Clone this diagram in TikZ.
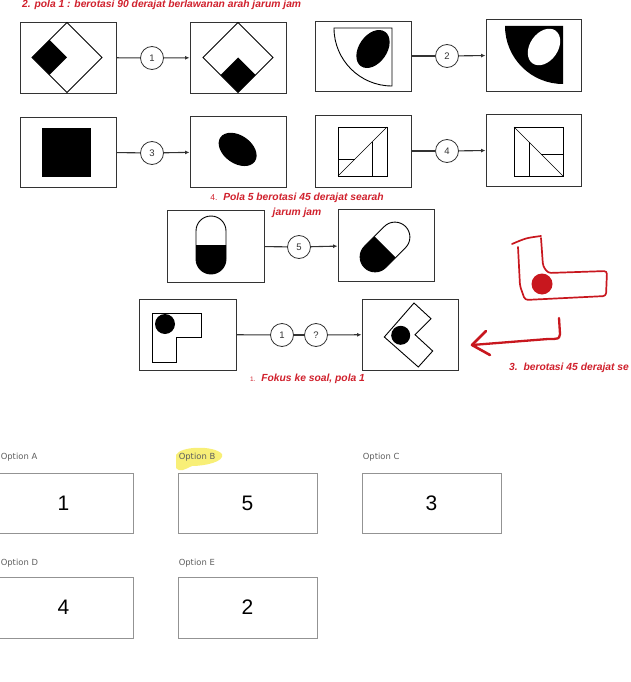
\documentclass[tikz,border=0pt]{standalone}
\usepackage{fontspec}
\setmainfont{Liberation Sans}
\newfontfamily\optfont{DejaVu Sans}
\usetikzlibrary{arrows.meta,positioning,calc}
\definecolor{notered}{HTML}{D0202C}
\definecolor{inkred}{HTML}{C8171E}
\definecolor{framegray}{HTML}{333333}
\definecolor{labelgray}{HTML}{5E5E5E}
\definecolor{marker}{HTML}{F6EA4A}

\begin{document}
\begin{tikzpicture}[
  x=1pt, y=1pt,
  panel/.style={
    draw=framegray, line width=0.9pt,
    minimum width=96pt, minimum height=71pt, inner sep=0pt
  },
  numcirc/.style={
    circle, draw=framegray, line width=0.8pt, fill=white,
    minimum size=23pt, inner sep=0pt,
    font=\fontsize{9.5}{10}\selectfont, text=framegray
  },
  link/.style={framegray, line width=1.1pt},
  arrowlink/.style={link, -{Latex[length=4.5pt, width=4pt]}},
  figline/.style={draw=black, line width=0.9pt},
  note/.style={
    font=\fontsize{10.3}{15}\selectfont\bfseries\itshape,
    text=notered, inner sep=0pt
  },
  optbox/.style={
    draw=gray!85, line width=0.8pt,
    minimum width=139pt, minimum height=60pt, inner sep=0pt,
    font=\fontsize{21}{24}\selectfont
  },
  optlabel/.style={font=\optfont\fontsize{8.4}{9}\selectfont, text=labelgray, inner sep=0pt},
  sketch/.style={inkred, line width=1.7pt, line cap=round, line join=round}
]
\useasboundingbox (0,0) rectangle (630,-682);

% ---- Row 1 ----
\node[note, anchor=west] (title1) at (22,-5) {2. pola 1 : berotasi 90 derajat berlawanan arah jarum jam};

\node[panel] (a1) at (68,-57.5) {};
\node[numcirc] (n1) at (152,-58) {1};
\node[panel] (a2) at (238,-57.5) {};
\draw[link] (a1) -- (n1);
\draw[arrowlink] (n1) -- (a2);

\node[panel, minimum height=70pt] (b1) at (363,-56) {};
\node[numcirc] (n2) at (447,-56) {2};
\node[panel, minimum width=95pt, minimum height=72pt] (b2) at (533.5,-55) {};
\draw[link] (b1) -- (n2);
\draw[arrowlink] (n2) -- (b2);

% diamonds
\begin{scope}[shift={(a1.center)}]
  \draw[figline] (-1,35) -- (34,0) -- (-1,-35) -- (-36,0) -- cycle;
  \fill[black] (-36,0) -- (-18.5,17.5) -- (-1,0) -- (-18.5,-17.5) -- cycle;
\end{scope}
\begin{scope}[shift={(a2.center)}]
  \draw[figline] (0,35) -- (35,0) -- (0,-35) -- (-35,0) -- cycle;
  \fill[black] (0,-35) -- (-17.5,-17.5) -- (0,0) -- (17.5,-17.5) -- cycle;
\end{scope}

% quarter discs
\begin{scope}[shift={(b1.center)}]
  \draw[figline] (29,28) -- (-29,28) arc[start angle=180, end angle=270, radius=58] -- cycle;
  \fill[black, rotate around={55:(10,7)}] (10,7) ellipse[x radius=21, y radius=14];
\end{scope}
\begin{scope}[shift={(b2.center)}]
  \fill[black] (29.5,29) -- (-28.5,29) arc[start angle=180, end angle=270, radius=58] -- cycle;
  \fill[white, rotate around={55:(10.5,8)}] (10.5,8) ellipse[x radius=20, y radius=14];
\end{scope}

% ---- Row 2 ----
\node[panel, minimum height=70pt] (c1) at (68,-152) {};
\node[numcirc] (n3) at (152,-153) {3};
\node[panel] (c2) at (238,-151.5) {};
\draw[link] (c1) -- (n3);
\draw[arrowlink] (n3) -- (c2);

\node[panel, minimum height=72pt] (d1) at (363,-151) {};
\node[numcirc] (n4) at (447,-151) {4};
\node[panel, minimum width=95pt, minimum height=72pt] (d2) at (533.5,-150) {};
\draw[link] (d1) -- (n4);
\draw[arrowlink] (n4) -- (d2);

\fill[black] ($(c1)+(-26,24)$) rectangle ($(c1)+(23,-25)$);
\fill[black, rotate around={-35:($(c2)+(-1.5,1.5)$)}] ($(c2)+(-1.5,1.5)$) ellipse[x radius=21, y radius=14];

% split squares
\begin{scope}[shift={(d1.center)}, line width=0.6pt]
  \draw (-25,24) rectangle (24,-25);
  \draw (-25,-25) -- (24,24);
  \draw (9,-25) -- (9,9);
  \draw (-25,-8) -- (-8,-8);
\end{scope}
\begin{scope}[shift={(d2.center)}, line width=0.6pt]
  \draw (-19.5,23) rectangle (29.5,-26);
  \draw (-19.5,23) -- (29.5,-26);
  \draw (-4.5,-26) -- (-4.5,8);
  \draw (29.5,-4) -- (7.5,-4);
\end{scope}

% ---- Row 3 ----
\node[note, align=center] (title4) at (297,-205.5)
  {{\mdseries\upshape\fontsize{8.5}{9}\selectfont 4.}\ \ Pola 5 berotasi 45 derajat searah\\jarum jam};

\node[panel, minimum width=97pt, minimum height=72pt] (e1) at (215.5,-246) {};
\node[numcirc] (n5) at (299,-247) {5};
\node[panel, minimum height=72pt] (e2) at (386,-245) {};
\draw[link] (e1) -- (n5);
\draw[arrowlink] (n5) -- (e2);

% pills
\begin{scope}[shift={($(e1)+(-4.5,1)$)}]
  \fill[black] (-15,0) -- (-15,-14) arc[start angle=180, end angle=360, radius=15] -- (15,0) -- cycle;
  \draw[figline] (-15,-14) -- (-15,14) arc[start angle=180, end angle=0, radius=15]
    -- (15,-14) arc[start angle=0, end angle=-180, radius=15] -- cycle;
\end{scope}
\begin{scope}[shift={($(e2)+(-1,-2)$)}, rotate=-45]
  \fill[black] (-15,0) -- (-15,-14) arc[start angle=180, end angle=360, radius=15] -- (15,0) -- cycle;
  \draw[figline] (-15,-14) -- (-15,14) arc[start angle=180, end angle=0, radius=15]
    -- (15,-14) arc[start angle=0, end angle=-180, radius=15] -- cycle;
\end{scope}

% ---- Row 4 (question) ----
\node[panel, minimum width=97pt] (f1) at (187.5,-334.5) {};
\node[numcirc] (n6) at (282,-335) {1};
\node[numcirc] (nq) at (316,-335) {?};
\node[panel] (f2) at (410,-334.5) {};
\draw[link] (f1) -- (n6);
\draw[link] (n6) -- (nq);
\draw[arrowlink] (nq) -- (f2);

\begin{scope}[shift={(f1.center)}]
  \draw[figline] (-35.5,21.5) -- (13.5,21.5) -- (13.5,-2.5) -- (-11.5,-2.5)
    -- (-11.5,-27.5) -- (-35.5,-27.5) -- cycle;
  \fill[black] (-22.5,10.5) circle[radius=10];
\end{scope}
\begin{scope}[shift={(f2.center)}]
  \draw[figline] (-25.7,-2.5) -- (4,31.5) -- (21,15.8) -- (5,-0.2)
    -- (22.7,-16.5) -- (8.3,-32.5) -- cycle;
  \fill[black] (-9.3,-0.8) circle[radius=9.5];
\end{scope}

\node[note, anchor=west] (title1b) at (250,-379)
  {{\mdseries\upshape\fontsize{6.5}{7}\selectfont 1.}\ \ Fokus ke soal, pola 1};

% ---- Hand sketch ----
\draw[sketch] (512,-244) .. controls (526,-238) .. (541,-236);
\draw[sketch, rounded corners=3pt] (518,-247) -- (520,-286) -- (525,-300)
  -- (606,-296) -- (607,-271) -- (548,-273) -- (543,-266) -- (541,-238);
\fill[inkred] (542,-284) circle[radius=10.5];

\coordinate (hook) at (559,-318);
\coordinate (tip) at (472,-345);
\draw[sketch, line width=2.3pt] (hook) -- (560,-334) .. controls (559,-339) .. (548,-339) -- (tip);
\draw[sketch, line width=2.6pt] (486,-331) -- (tip) -- (490,-355);

\node[note, anchor=west] (title3) at (509,-368) {3.\ \ berotasi 45 derajat se};

% ---- Options ----
\fill[marker, opacity=0.75] (176,-455) .. controls (180,-446) and (214,-445) .. (222,-454)
  .. controls (225,-462) and (204,-466) .. (192,-466)
  .. controls (186,-469) and (179,-473) .. (176,-468) -- cycle;

\node[optbox] (optA) at (63.5,-503) {1};
\node[optbox] (optB) at (247.5,-503) {5};
\node[optbox] (optC) at (431.5,-503) {3};
\node[optbox, minimum height=61pt] (optD) at (63.5,-607.5) {4};
\node[optbox, minimum height=61pt] (optE) at (247.5,-607.5) {2};

\node[optlabel, above=11pt of optA.north west, anchor=south west, xshift=7pt] (labA) {Option A};
\node[optlabel, above=11pt of optB.north west, anchor=south west, xshift=1pt] (labB) {Option B};
\node[optlabel, above=11pt of optC.north west, anchor=south west, xshift=1pt] (labC) {Option C};
\node[optlabel, above=9pt of optD.north west, anchor=south west, xshift=7pt] (labD) {Option D};
\node[optlabel, above=9pt of optE.north west, anchor=south west, xshift=1pt] (labE) {Option E};

\end{tikzpicture}
\end{document}
